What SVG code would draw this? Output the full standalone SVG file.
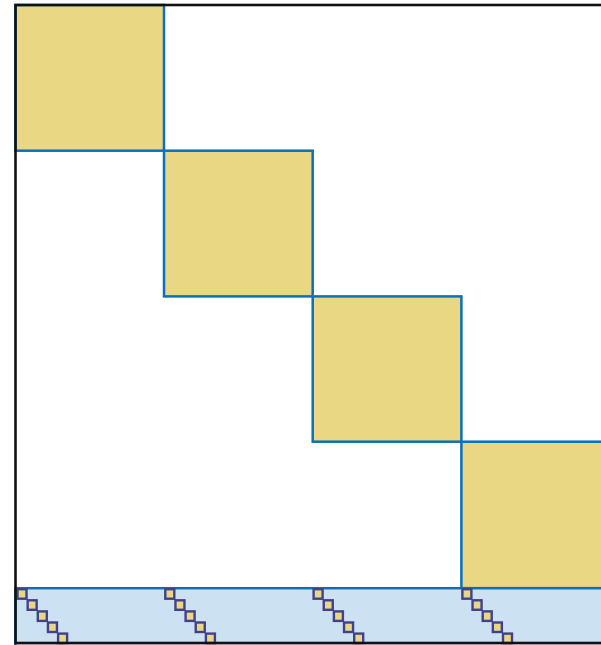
<svg xmlns="http://www.w3.org/2000/svg" width="601" height="645" viewBox="0 0 601 645">
<style>
.blk{fill:#EAD783;stroke:#0870BC;stroke-width:2.5}
.strip{fill:#CCE1F1;stroke:#0870BC;stroke-width:2.5}
.sq{fill:#EAD783;stroke:#41418D;stroke-width:2.4}
</style>
<defs>
<g id="chain">
<rect class="sq" x="0" y="0" width="9" height="9.5"/>
<rect class="sq" x="10.15" y="11.1" width="9" height="9.5"/>
<rect class="sq" x="20.3" y="22.2" width="9" height="9.5"/>
<rect class="sq" x="30.45" y="33.3" width="9" height="9.5"/>
<rect class="sq" x="40.6" y="44.4" width="9" height="9.5"/>
</g>
</defs>
<rect x="0" y="0" width="601" height="645" fill="#FFFFFF"/>
<g id="block1"><rect class="blk" x="15.5" y="5" width="148.5" height="145.7"/></g>
<g id="block2"><rect class="blk" x="164" y="150.7" width="148.7" height="145.7"/></g>
<g id="block3"><rect class="blk" x="312.7" y="296.4" width="148.7" height="145.3"/></g>
<g id="block4"><rect class="blk" x="461.4" y="441.7" width="160" height="146.5"/></g>
<g id="strip">
<rect class="strip" x="15.5" y="588.2" width="610" height="60"/>
<use href="#chain" x="17.5" y="589.2"/>
<use href="#chain" x="165.3" y="589.2"/>
<use href="#chain" x="313.6" y="589.2"/>
<use href="#chain" x="462.4" y="589.2"/>
</g>
<g id="frame"><rect x="15.5" y="5" width="620" height="638" fill="none" stroke="#111111" stroke-width="2.6"/></g>
</svg>
